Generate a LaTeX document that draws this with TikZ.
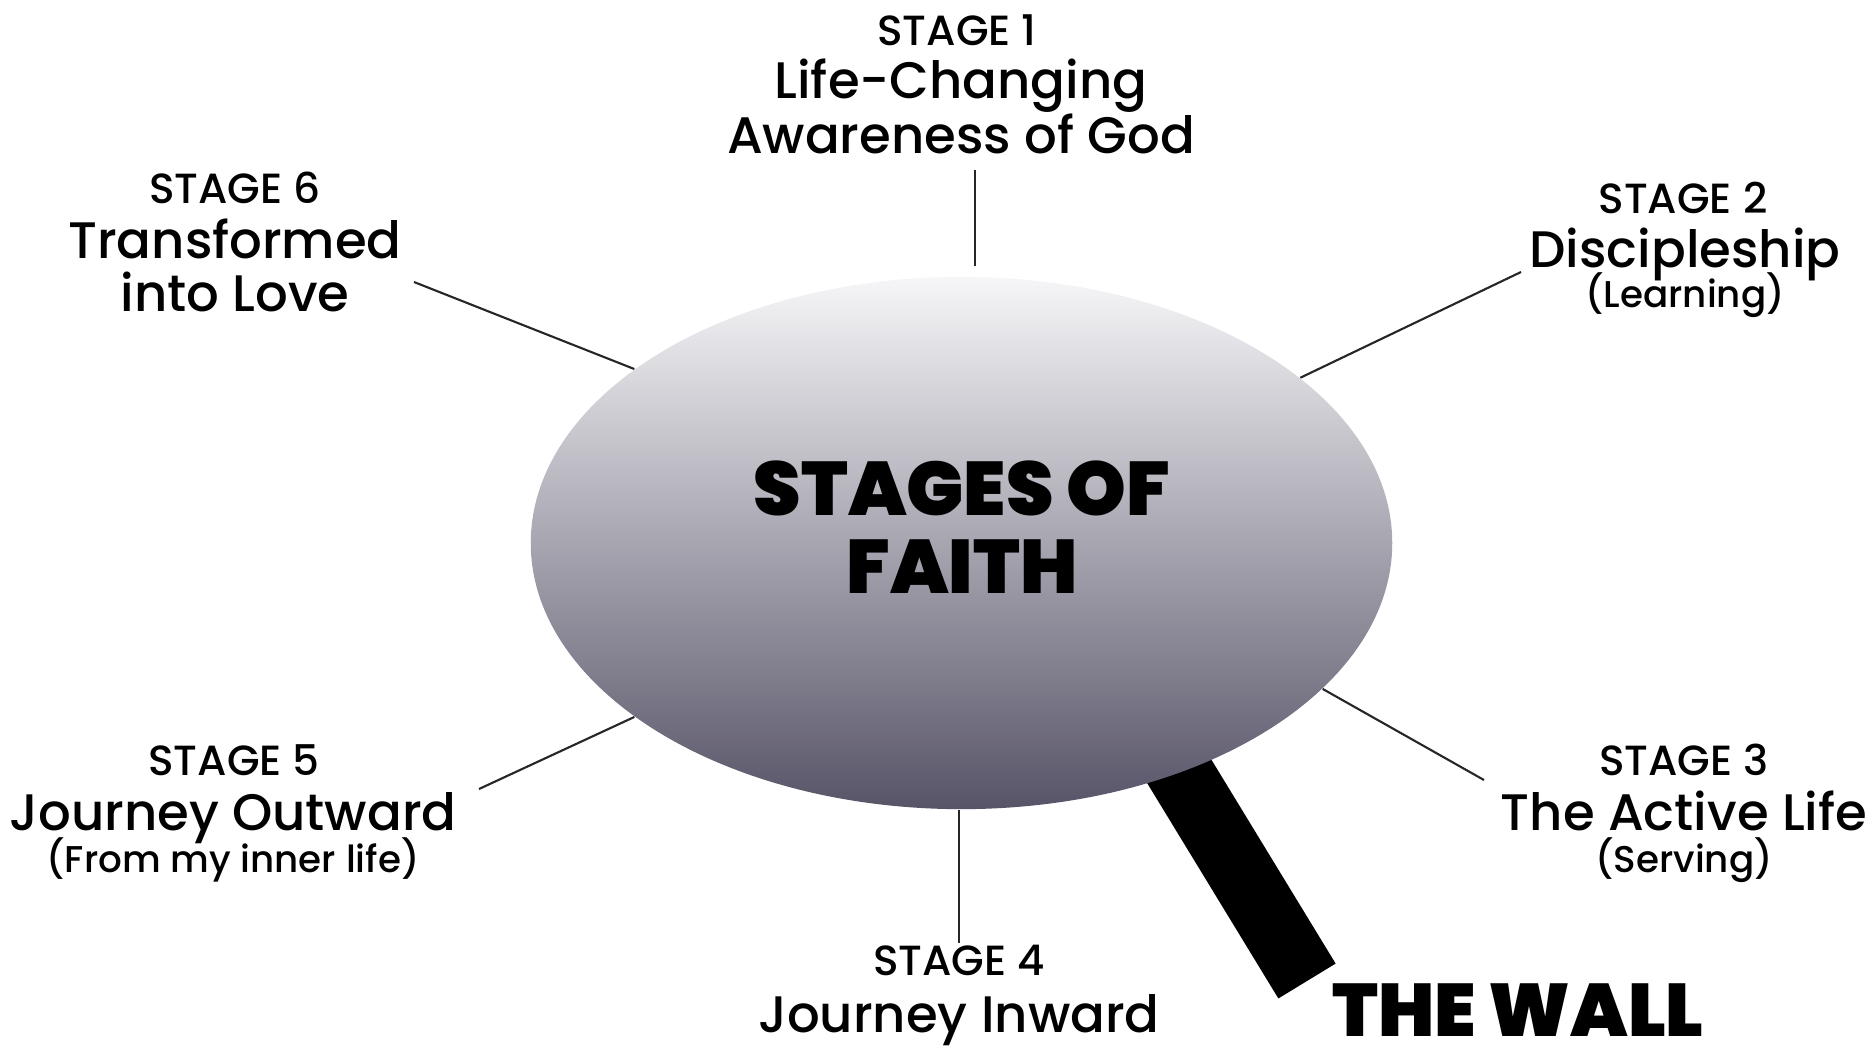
\documentclass[tikz,border=0pt]{standalone}
\usepackage{fontspec}
\setmainfont{Poppins}[UprightFont={* Medium}]
\newfontfamily\heavyfont{Poppins Black}
\usetikzlibrary{shapes.geometric}
\definecolor{globetop}{RGB}{246,246,248}
\definecolor{globebot}{RGB}{88,84,104}
\begin{document}
\begin{tikzpicture}[x=0.01cm,y=-0.01cm,
		stagehead/.style={anchor=base,inner sep=0,font=\fontsize{12}{12}\selectfont},
		stagename/.style={anchor=base,inner sep=0,font=\fontsize{14.6}{16}\selectfont},
		stagenote/.style={anchor=base,inner sep=0,font=\fontsize{10.6}{12}\selectfont},
		heavytext/.style={anchor=base,inner sep=0,font=\heavyfont\fontsize{21.6}{22}\selectfont},
		spoke/.style={line width=0.6pt,black!85}]
		\useasboundingbox (0,0) rectangle (1872,1048);
		% the wall sits behind the globe
		\coordinate (wa) at (1151,725);
		\coordinate (wb) at (1307,981);
		\draw[line width=0.67cm] (wa)--(wb);
		\node[ellipse,minimum width=8.61cm,minimum height=5.32cm,inner sep=0,top color=globetop,bottom color=globebot] (faith) at (961.5,543) {};
		\node[heavytext] (t1) at (962,515) {STAGES OF};
		\node[heavytext] (t2) at (962,593) {FAITH};
		\node[heavytext,font=\heavyfont\fontsize{21.2}{22}\selectfont] (wall) at (1518,1036) {THE WALL};
		% stage labels
		\foreach \k/\x/\y in {1/957/45,2/1683/213,3/1684/775,4/959/975,5/234/775,6/235/203}{
			\node[stagehead] (h\k) at (\x,\y) {STAGE \k};
		}
		\node[stagename] (s1a) at (961,98) {Life-Changing};
		\node[stagename] (s1b) at (961,153) {Awareness of God};
		\node[stagename] (s2a) at (1685,267) {Discipleship};
		\node[stagenote] (s2b) at (1685,307) {(Learning)};
		\node[stagename] (s3a) at (1684,830) {The Active Life};
		\node[stagenote] (s3b) at (1684,872) {(Serving)};
		\node[stagename] (s4a) at (959,1032) {Journey Inward};
		\node[stagename] (s5a) at (233,830) {Journey Outward};
		\node[stagenote] (s5b) at (233,872) {(From my inner life)};
		\node[stagename] (s6a) at (235,258) {Transformed};
		\node[stagename] (s6b) at (235,311) {into Love};
		% spokes
		\coordinate (c1) at (975,170);
		\coordinate (c2) at (1521,272);
		\coordinate (c3) at (1484,780);
		\coordinate (c4) at (959,943);
		\coordinate (c5) at (479,789);
		\coordinate (c6) at (414,282);
		\draw[spoke,shorten >=0.1cm] (c1)--(c1|-faith.north);
		\draw[spoke] (c2)--(faith.26.8);
		\draw[spoke] (faith.-22.4)--(c3);
		\draw[spoke] (c4|-faith.south)--(c4);
		\draw[spoke] (c5)--(faith.208.8);
		\draw[spoke] (c6)--(faith.152.9);
	\end{tikzpicture}
\end{document}
